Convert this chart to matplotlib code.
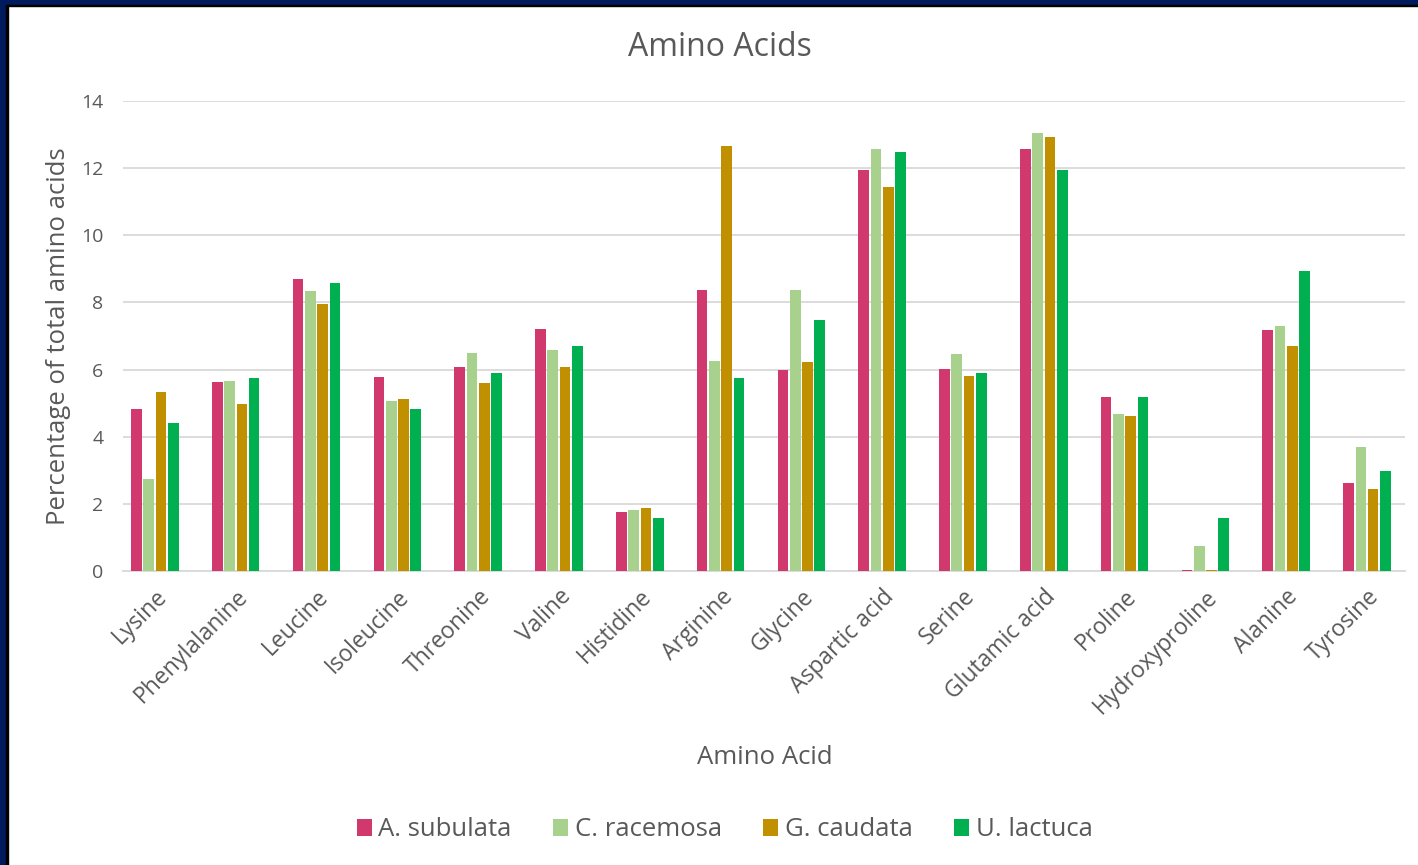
import numpy as np
import matplotlib.pyplot as plt
from matplotlib.patches import Rectangle

plt.rcParams['font.family'] = ['Open Sans', 'DejaVu Sans']

# amino acid composition, % of total amino acids
amino_acids = ["Lysine", "Phenylalanine", "Leucine", "Isoleucine", "Threonine",
               "Valine", "Histidine", "Arginine", "Glycine", "Aspartic acid",
               "Serine", "Glutamic acid", "Proline", "Hydroxyproline",
               "Alanine", "Tyrosine"]

a_subulata = [4.83, 5.63, 8.71, 5.78, 6.09, 7.21, 1.75, 8.36,
              5.99, 11.94, 6.02, 12.57, 5.17, 0.04, 7.17, 2.62]
c_racemosa = [2.74, 5.67, 8.33, 5.07, 6.48, 6.58, 1.82, 6.26,
              8.36, 12.57, 6.47, 13.04, 4.69, 0.74, 7.30, 3.70]
g_caudata = [5.32, 4.98, 7.95, 5.11, 5.60, 6.09, 1.89, 12.67,
             6.23, 11.45, 5.81, 12.94, 4.62, 0.04, 6.69, 2.45]
u_lactuca = [4.41, 5.74, 8.58, 4.83, 5.91, 6.69, 1.57, 5.74,
             7.49, 12.47, 5.91, 11.94, 5.17, 1.58, 8.93, 2.98]

species = ["A. subulata", "C. racemosa", "G. caudata", "U. lactuca"]
series = [a_subulata, c_racemosa, g_caudata, u_lactuca]
colors = ["#D0386E", "#A9D18E", "#C09000", "#00B050"]

txt = "#595959"

fig = plt.figure(figsize=(14.18, 8.65), dpi=100)
ax = fig.add_axes([0.0867, 0.3399, 0.9041, 0.5433])

x = np.arange(len(amino_acids))
pitch = 0.152
width = 0.132
for i, (name, vals, c) in enumerate(zip(species, series, colors)):
    ax.bar(x + (i - 1.5) * pitch, vals, width, color=c, label=name, zorder=3)

ax.set_xlim(-0.396, 15.47)
ax.set_ylim(0, 14)
ax.set_yticks(np.arange(0, 15, 2))
ax.yaxis.grid(True, color="#D9D9D9", linewidth=1.3, zorder=0)
for s in ["top", "right", "left"]:
    ax.spines[s].set_visible(False)
ax.spines["bottom"].set_color("#D9D9D9")
ax.spines["bottom"].set_linewidth(1.3)
ax.tick_params(axis="both", length=0, colors=txt)
ax.tick_params(axis="y", labelsize=14, pad=14)
ax.tick_params(axis="x", pad=10)

ax.set_xticks(x)
ax.set_xticklabels(amino_acids, rotation=45, ha="right", rotation_mode="anchor",
                   fontsize=16.5, color=txt)

ax.set_ylabel("Percentage of total amino acids", fontsize=18.5, color=txt, labelpad=7)

fig.text(0.508, 1 - 48 / 865, "Amino Acids", fontsize=23, color=txt,
         ha="center", va="center")
fig.text(765 / 1418, 1 - 758 / 865, "Amino Acid", fontsize=18.5, color=txt,
         ha="center", va="center")

leg = fig.legend(loc="center", bbox_to_anchor=(0.511, 1 - 830 / 865), ncol=4,
                 frameon=False, fontsize=18.5, handlelength=0.6, handleheight=0.6,
                 handletextpad=0.25, columnspacing=1.6)
for t in leg.get_texts():
    t.set_color(txt)

# dark frame along the top and left edges
fig.patches.append(Rectangle((0, 1 - 5 / 865), 1, 5 / 865, transform=fig.transFigure,
                             color="#001A5E", zorder=10))
fig.patches.append(Rectangle((0, 1 - 6 / 865), 1, 1.5 / 865, transform=fig.transFigure,
                             color="black", zorder=10))
fig.patches.append(Rectangle((0, 0), 6 / 1418, 1, transform=fig.transFigure,
                             color="#001A5E", zorder=10))
fig.patches.append(Rectangle((6 / 1418, 0), 2 / 1418, 1 - 5 / 865, transform=fig.transFigure,
                             color="black", zorder=10))

fig.savefig("out.png", dpi=100)
